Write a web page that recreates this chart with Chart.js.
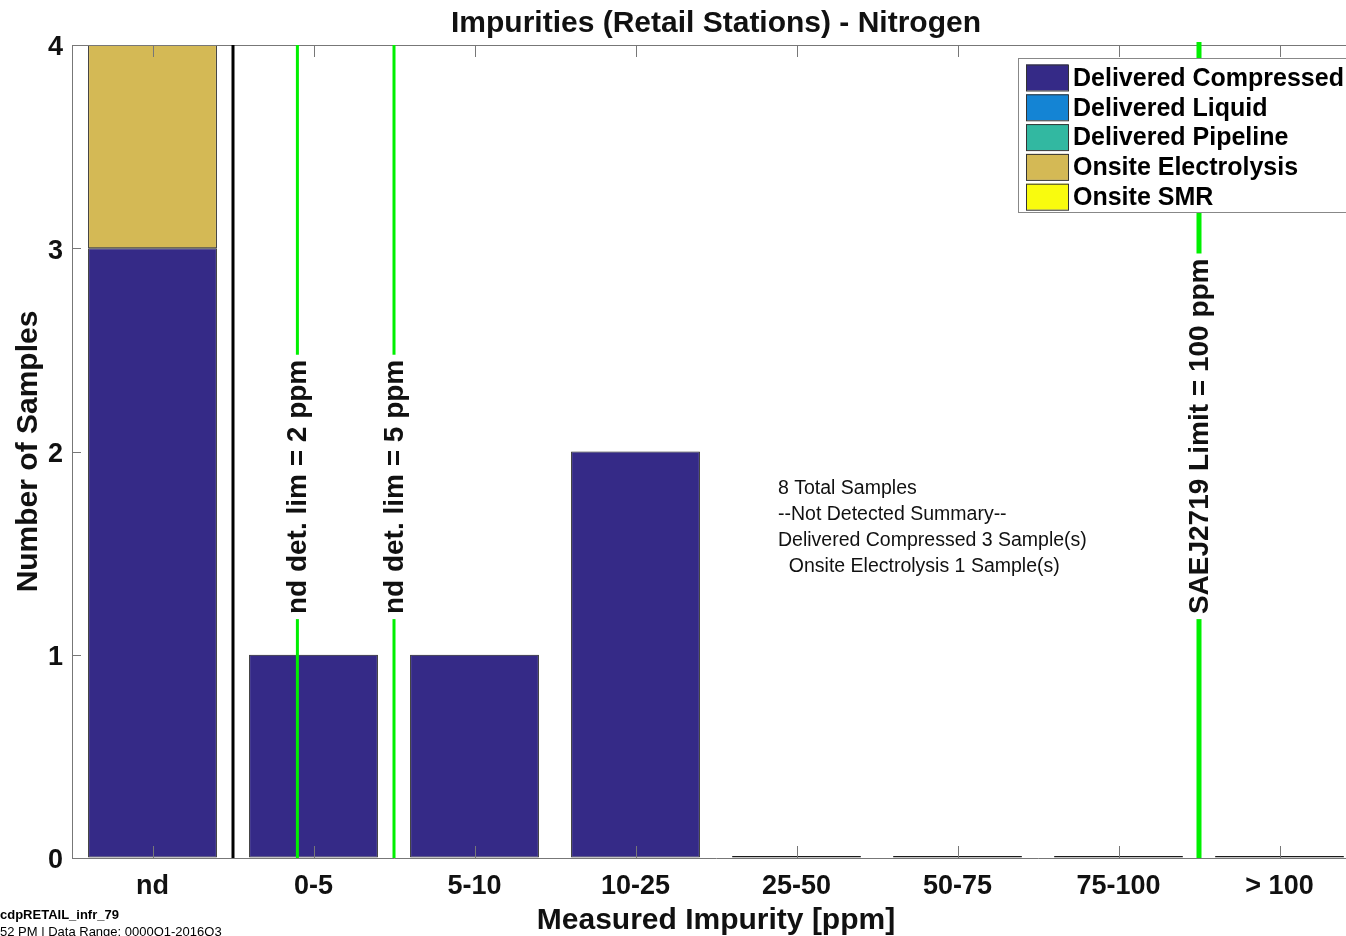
<!DOCTYPE html>
<html><head><meta charset="utf-8">
<script src="https://cdn.jsdelivr.net/npm/chart.js@4.4.0/dist/chart.umd.min.js"></script>
<style>html,body{margin:0;padding:0;overflow:hidden;background:#fff}
#wrap{width:1360px;height:936px;position:relative}</style>
</head><body><div id="wrap"><canvas id="c"></canvas></div>
<script>
const categories = ['nd','0-5','5-10','10-25','25-50','50-75','75-100','> 100'];
const seriesNames = ['Delivered Compressed','Delivered Liquid','Delivered Pipeline','Onsite Electrolysis','Onsite SMR'];
const deliveredCompressed = [3,1,1,2,0,0,0,0];
const deliveredLiquid     = [0,0,0,0,0,0,0,0];
const deliveredPipeline   = [0,0,0,0,0,0,0,0];
const onsiteElectrolysis  = [1,0,0,0,0,0,0,0];
const onsiteSMR           = [0,0,0,0,0,0,0,0];
const yTicks = [0,1,2,3,4];
// reference lines, positions in category-index units (nd=0, 0-5=1, ...)
const refLinePositions = [0.5, 0.9, 1.5, 6.5];
const refLineLabels = [null, 'nd det. lim = 2 ppm', 'nd det. lim = 5 ppm', 'SAEJ2719 Limit = 100 ppm'];
const summaryLines = ['8 Total Samples','--Not Detected Summary--','Delivered Compressed 3 Sample(s)','  Onsite Electrolysis 1 Sample(s)'];
const footerLines = ['cdpRETAIL_infr_79','52 PM | Data Range: 0000Q1-2016Q3'];

const seriesColors = ['#352a87','#1484d4','#32b8a1','#d4b955','#f9fb0e'];
const refLineColors = ['#000000','#00f000','#00f000','#00f000'];
const refLineWidths = [3,3,3,5];
const FONT = "'Liberation Sans', Arial, Helvetica, sans-serif";
const seriesData = [deliveredCompressed, deliveredLiquid, deliveredPipeline, onsiteElectrolysis, onsiteSMR];

const overlay = {
  id: 'overlay',
  afterDatasetsDraw(chart) {
    const {ctx, chartArea: a, scales: {x, y}} = chart;
    ctx.save();
    // inward tick marks (MATLAB style)
    ctx.strokeStyle = '#777'; ctx.lineWidth = 1;
    ctx.beginPath();
    y.ticks.forEach((t, i) => {
      const py = Math.round(y.getPixelForTick(i)) + 0.5;
      ctx.moveTo(a.left, py); ctx.lineTo(a.left + 9, py);
    });
    x.ticks.forEach((t, i) => {
      const px = Math.round(x.getPixelForTick(i)) + 0.5;
      ctx.moveTo(px, a.bottom); ctx.lineTo(px, a.bottom - 12);
      ctx.moveTo(px, a.top); ctx.lineTo(px, a.top + 12);
    });
    ctx.stroke();
    // top border
    ctx.beginPath(); ctx.moveTo(a.left, a.top + 0.5); ctx.lineTo(a.right, a.top + 0.5); ctx.stroke();
    // reference lines
    refLinePositions.forEach((p, i) => {
      const px = x.getPixelForValue(p);
      ctx.strokeStyle = refLineColors[i]; ctx.lineWidth = refLineWidths[i];
      ctx.beginPath();
      ctx.moveTo(px, refLineWidths[i] > 3 ? a.top - 3 : a.top);
      ctx.lineTo(px, a.bottom);
      ctx.stroke();
    });
    // labels on the reference lines
    ctx.font = 'bold 28px ' + FONT;
    ctx.textBaseline = 'middle'; ctx.textAlign = 'left';
    refLinePositions.forEach((p, i) => {
      const lab = refLineLabels[i];
      if (!lab) return;
      const px = x.getPixelForValue(p);
      const py = y.getPixelForValue(1.2);
      const w = ctx.measureText(lab).width;
      ctx.save();
      ctx.translate(px, py); ctx.rotate(-Math.PI / 2);
      ctx.fillStyle = '#fff';
      ctx.fillRect(-5, -14, w + 10, 28);
      ctx.fillStyle = '#111';
      ctx.fillText(lab, 0, 1);
      ctx.restore();
    });
    // summary text
    ctx.font = '19.5px ' + FONT;
    ctx.fillStyle = '#111';
    ctx.textBaseline = 'middle';
    const sx = x.getPixelForValue(3.885);
    const sy = y.getPixelForValue(1.83) + 3;
    summaryLines.forEach((s, i) => ctx.fillText(s, sx, sy + i * 26));
    // legend
    const lx = a.right - 342, ly = a.top + 13, lw = 360, lh = 154;
    ctx.fillStyle = '#fff'; ctx.fillRect(lx, ly, lw, lh);
    ctx.strokeStyle = '#888'; ctx.lineWidth = 1;
    ctx.strokeRect(lx + 0.5, ly + 0.5, lw, lh);
    ctx.font = 'bold 25px ' + FONT;
    chart.data.datasets.forEach((ds, i) => {
      const cy = ly + 19.5 + i * 29.8;
      ctx.fillStyle = ds.backgroundColor;
      ctx.fillRect(lx + 8, cy - 13, 42, 26);
      ctx.strokeStyle = '#333'; ctx.lineWidth = 1;
      ctx.strokeRect(lx + 8.5, cy - 12.5, 42, 26);
      ctx.fillStyle = '#000';
      ctx.fillText(ds.label, lx + 55, cy + 1.5);
    });
    // footer
    ctx.fillStyle = '#000';
    ctx.textBaseline = 'middle';
    ctx.font = 'bold 13px ' + FONT;
    ctx.fillText(footerLines[0], 0, 915);
    ctx.font = '13px ' + FONT;
    ctx.fillText(footerLines[1], 0, 932);
    ctx.restore();
  }
};

new Chart(document.getElementById('c'), {
  type: 'bar',
  data: {
    labels: categories,
    datasets: seriesNames.map((n, i) => ({
      label: n,
      data: seriesData[i],
      backgroundColor: seriesColors[i],
      borderColor: '#1a1a1a',
      borderWidth: 1,
      borderSkipped: false,
      minBarLength: i === 0 ? 2 : 0,
      categoryPercentage: 1.0,
      barPercentage: 0.8
    }))
  },
  options: {
    responsive: true,
    maintainAspectRatio: false,
    animation: false,
    layout: { padding: 0 },
    plugins: {
      legend: { display: false },
      tooltip: { enabled: false },
      title: {
        display: true,
        text: 'Impurities (Retail Stations) - Nitrogen',
        fullSize: false,
        color: '#111',
        font: { family: FONT, size: 30, weight: 'bold' },
        padding: { top: 6, bottom: 3 }
      }
    },
    scales: {
      x: {
        stacked: true,
        grid: { drawOnChartArea: false, drawTicks: false },
        border: { color: '#777', width: 1 },
        ticks: { color: '#111', font: { family: FONT, size: 27, weight: 'bold' }, padding: 12, maxRotation: 0, autoSkip: false },
        title: { display: true, text: 'Measured Impurity [ppm]', color: '#111',
          font: { family: FONT, size: 30, weight: 'bold' }, padding: { top: 0, bottom: -3 } },
        afterFit(s) { s.height = 78; }
      },
      y: {
        stacked: true,
        min: 0, max: 4,
        afterBuildTicks(s) { s.ticks = yTicks.map(v => ({ value: v })); },
        grid: { drawOnChartArea: false, drawTicks: false },
        border: { color: '#777', width: 1 },
        ticks: { color: '#111', font: { family: FONT, size: 27, weight: 'bold' }, padding: 9, labelOffset: 3 },
        title: { display: true, text: 'Number of Samples', color: '#111',
          font: { family: FONT, size: 30, weight: 'bold' }, padding: { top: 11, bottom: 0 } },
        afterFit(s) { s.width = 72; }
      }
    }
  },
  plugins: [overlay]
});
</script>
</body></html>
